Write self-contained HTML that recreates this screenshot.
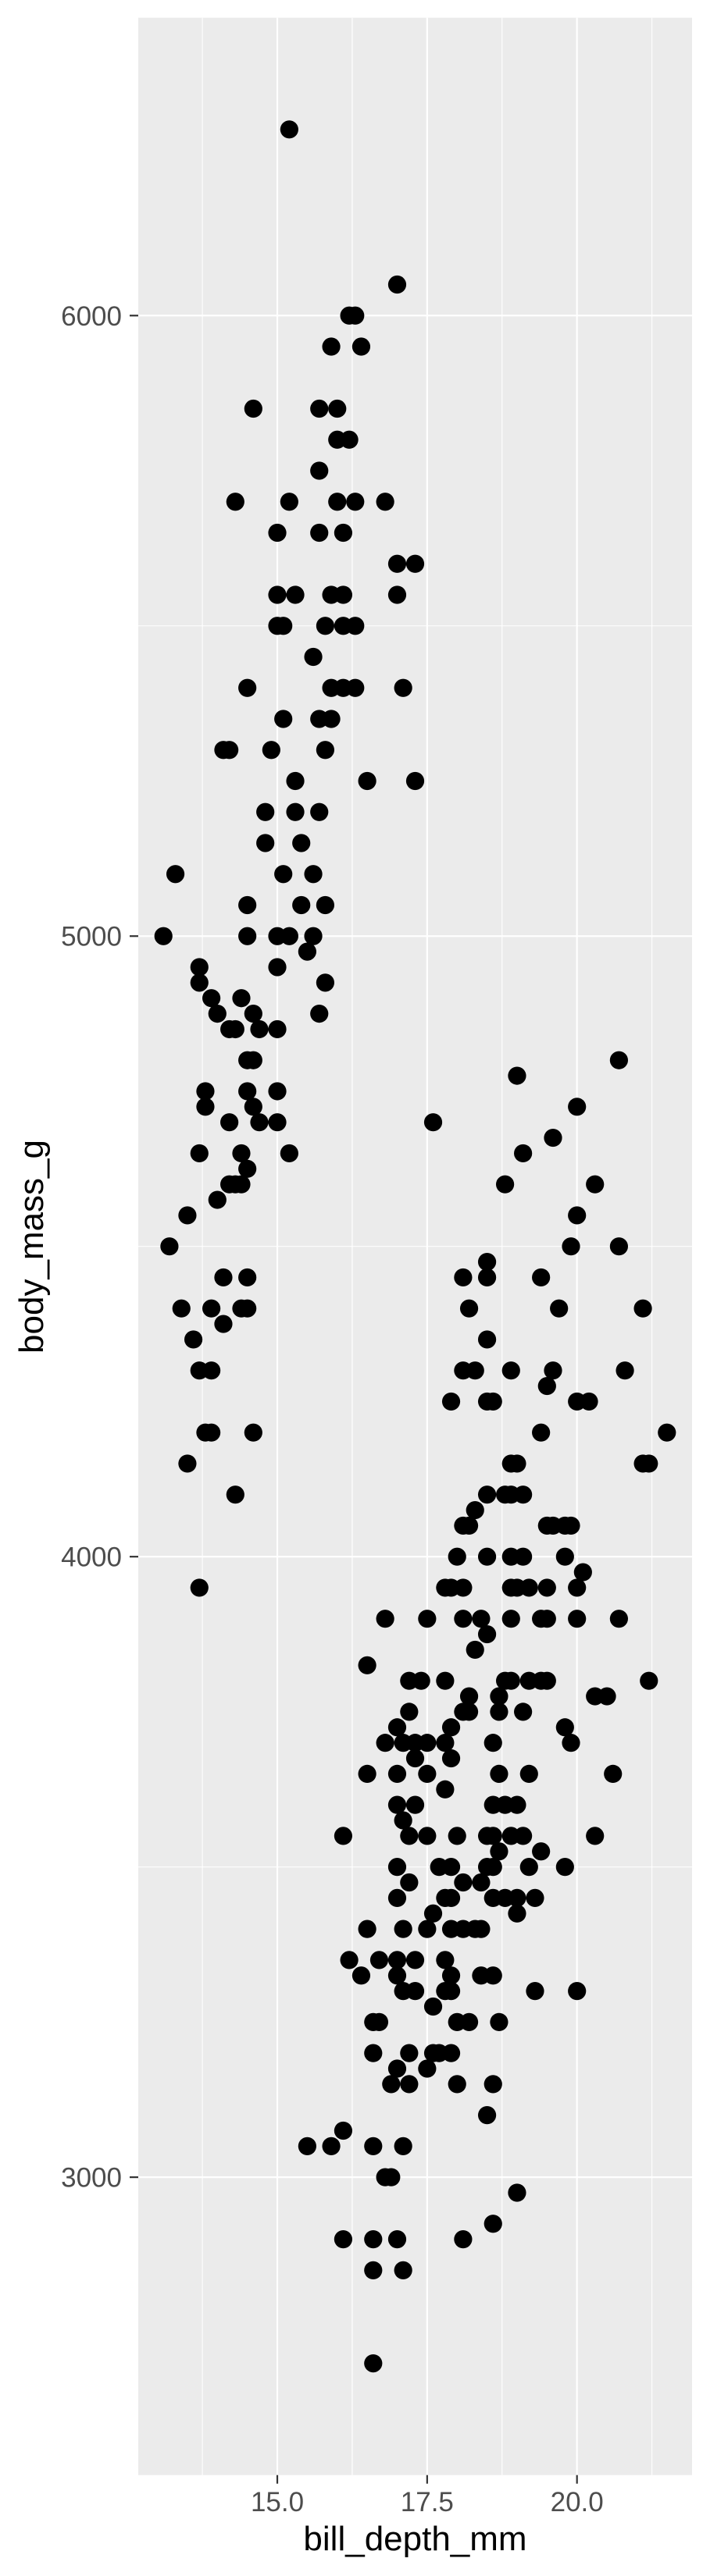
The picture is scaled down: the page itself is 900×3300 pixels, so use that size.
<!DOCTYPE html>
<html><head><meta charset="utf-8"><style>html,body{margin:0;padding:0;background:#fff}svg{display:block}</style></head>
<body>
<svg id="chart" width="900" height="3300" viewBox="0 0 900 3300" xmlns="http://www.w3.org/2000/svg" font-family="Liberation Sans, Arial, sans-serif">
<rect x="177" y="22.7" width="709" height="3148" fill="#EBEBEB"/>
<g id="grid"></g>
<g id="points"></g>
<g id="axes"></g>
<text x="531.5" y="3267" font-size="44" text-anchor="middle" fill="#000">bill_depth_mm</text>
<text transform="translate(55,1597) rotate(-90)" font-size="44" text-anchor="middle" fill="#000">body_mass_g</text>
</svg>
<script>
const massLevels=[6300,6050,6000,5950,5850,5800,5750,5700,5650,5600,5550,5500,5450,5400,5350,5300,5250,5200,5150,5100,5050,5000,4975,4950,4925,4900,4875,4850,4800,4775,4750,4725,4700,4675,4650,4625,4600,4575,4550,4500,4475,4450,4400,4375,4350,4300,4275,4250,4200,4150,4100,4075,4050,4000,3975,3950,3900,3875,3850,3825,3800,3775,3750,3725,3700,3675,3650,3625,3600,3575,3550,3525,3500,3475,3450,3425,3400,3350,3325,3300,3275,3250,3200,3175,3150,3100,3075,3050,3000,2975,2925,2900,2850,2700];
const depthsAtLevel=[
[15.2],[17.0],[16.2,16.3],[15.9,16.4],[14.6,15.7,16.0],[16.0,16.2],[15.7],[14.3,15.2,16.0,16.3,16.8],[15.0,15.7,16.1],[17.0,17.3],
[15.0,15.3,15.9,16.1,17.0],[15.0,15.1,15.8,16.1,16.3],[15.6],[14.5,15.9,16.1,16.3,17.1],[15.1,15.7,15.9],[14.1,14.2,14.9,15.8],[15.3,16.5,17.3],[14.8,15.3,15.7],[14.8,15.4],[13.3,15.1,15.6],
[14.5,15.4,15.8],[13.1,14.5,15.0,15.2,15.6],[15.5],[13.7,15.0],[13.7,15.8],[13.9,14.4],[14.0,14.6,15.7],[14.2,14.3,14.7,15.0],[14.5,14.6,20.7],[19.0],
[13.8,14.5,15.0],[13.8,14.6,20.0],[14.2,14.7,15.0,17.6],[19.6],[13.7,14.4,15.2,19.1],[14.5],[14.2,14.3,14.4,18.8,20.3],[14.0],[13.5,20.0],[13.2,19.9,20.7],
[18.5],[14.1,14.5,18.1,18.5,19.4],[13.4,13.9,14.4,14.5,18.2,19.7,21.1],[14.1],[13.6,18.5],[13.7,13.9,18.1,18.3,18.9,19.6,20.8],[19.5],[17.9,18.5,18.6,20.0,20.2],[13.8,13.9,14.6,19.4,21.5],[13.5,18.9,19.0,21.1,21.2],
[14.3,18.5,18.8,18.9,19.1],[18.3],[18.1,18.2,19.5,19.6,19.8,19.9],[18.0,18.5,18.9,19.1,19.8],[20.1],[13.7,17.8,17.9,18.1,18.9,19.0,19.2,19.5,20.0],[16.8,17.5,18.1,18.4,18.9,19.4,19.5,20.0,20.7],[18.5],[18.3],[16.5],
[17.2,17.4,17.8,18.8,18.9,19.2,19.4,19.5,21.2],[18.2,18.7,20.3,20.5],[17.2,18.1,18.2,18.7,19.1],[17.0,17.9,19.8],[16.8,17.1,17.3,17.5,17.8,18.6,19.9],[17.3,17.9],[16.5,17.0,17.5,18.7,19.2,20.6],[17.8],[17.0,17.3,18.6,18.8,19.0],[17.1],
[16.1,17.2,17.5,18.0,18.5,18.6,18.9,19.1,20.3],[18.7,19.4],[17.0,17.7,17.9,18.5,18.6,19.2,19.8],[17.2,18.1,18.4],[17.0,17.8,17.9,18.6,18.8,19.0,19.3],[17.6,19.0],[16.5,17.1,17.5,17.9,18.1,18.3,18.4],[16.2,16.7,17.0,17.3,17.8],[16.4,17.0,17.9,18.4,18.6],[17.1,17.3,17.8,17.9,19.3,20.0],
[17.6],[16.6,16.7,18.0,18.2,18.7],[16.6,17.2,17.6,17.7,17.9],[17.0,17.5],[16.9,17.2,18.0,18.6],[18.5],[16.1],[15.5,15.9,16.6,17.1],[16.8,16.9],[19.0],
[18.6],[16.1,16.6,17.0,18.1],[16.6,17.1],[16.6]
];
const xTicks=[15.0,17.5,20.0];
const xTickLabels=["15.0","17.5","20.0"];
const xMinor=[13.75,16.25,18.75,21.25];
const yTicks=[3000,4000,5000,6000];
const yTickLabels=["3000","4000","5000","6000"];
const yMinor=[3500,4500,5500];

const PX0=177,PX1=886,PY0=22.7,PY1=3170.7;
const XMIN=12.68,XMAX=21.92,YMIN=2520,YMAX=6480;
function xs(v){return PX0+(v-XMIN)/(XMAX-XMIN)*(PX1-PX0);}
function ys(v){return PY1-(v-YMIN)/(YMAX-YMIN)*(PY1-PY0);}
const NS="http://www.w3.org/2000/svg";
function mk(tag,attrs,parent){const e=document.createElementNS(NS,tag);for(const k in attrs)e.setAttribute(k,attrs[k]);parent.appendChild(e);return e;}
const grid=document.getElementById('grid'),pts=document.getElementById('points'),axes=document.getElementById('axes');
xMinor.forEach(v=>{const l=mk('line',{x1:xs(v),x2:xs(v),y1:PY0,y2:PY1,stroke:'#fff','stroke-width':1.1},grid);

});
yMinor.forEach(v=>{const l=mk('line',{x1:PX0,x2:PX1,y1:ys(v),y2:ys(v),stroke:'#fff','stroke-width':1.1},grid);

});
xTicks.forEach((v,i)=>{const l=mk('line',{x1:xs(v),x2:xs(v),y1:PY0,y2:PY1,stroke:'#fff','stroke-width':2.2},grid);


const t=mk('line',{x1:xs(v),x2:xs(v),y1:PY1,y2:PY1+11,stroke:'#333','stroke-width':2.2},axes);


const tx=mk('text',{x:xs(v),y:3217,'font-size':35,'text-anchor':'middle',fill:'#4D4D4D'},axes);
tx.textContent=xTickLabels[i];

});
yTicks.forEach((v,i)=>{const l=mk('line',{x1:PX0,x2:PX1,y1:ys(v),y2:ys(v),stroke:'#fff','stroke-width':2.2},grid);


const t=mk('line',{x1:PX0-11,x2:PX0,y1:ys(v),y2:ys(v),stroke:'#333','stroke-width':2.2},axes);


const tx=mk('text',{x:156,y:ys(v)+12.5,'font-size':35,'text-anchor':'end',fill:'#4D4D4D'},axes);
tx.textContent=yTickLabels[i];

});
massLevels.forEach((m,i)=>{depthsAtLevel[i].forEach(d=>{
const c=mk('circle',{cx:xs(d),cy:ys(m),r:11.6,fill:'#000'},pts);

});});
</script>
</body></html>
